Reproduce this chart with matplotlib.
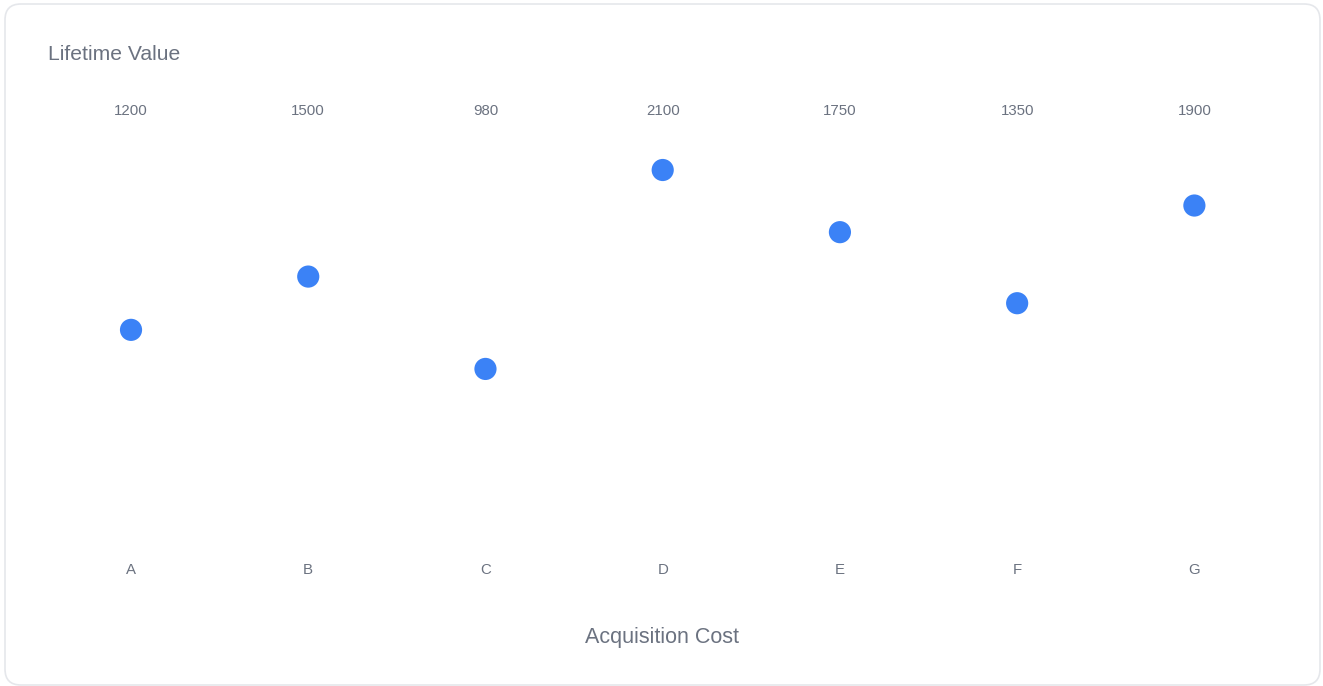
import numpy as np
import matplotlib.pyplot as plt
from matplotlib.patches import FancyBboxPatch
import matplotlib.transforms as mtransforms

# data
categories = ['A', 'B', 'C', 'D', 'E', 'F', 'G']
acquisition_cost = [1200, 1500, 980, 2100, 1750, 1350, 1900]
lifetime_value = [1200, 1500, 980, 2100, 1750, 1350, 1900]

W, H = 1323, 686
text_col = '#6b7280'
dot_col = '#3b82f6'
plt.rcParams['font.family'] = ['Liberation Sans', 'DejaVu Sans']

fig = plt.figure(figsize=(W / 100, H / 100), dpi=100)

# card background
card = FancyBboxPatch((5 / W, 1 - 685 / H), 1315 / W, 681 / H,
                      boxstyle='round,pad=0,rounding_size=0.012',
                      transform=fig.transFigure, facecolor='white',
                      edgecolor='#e5e7eb', linewidth=1.2, mutation_aspect=W / H,
                      zorder=-10)
fig.patches.append(card)

# axes: band scale for x, linear for y
left, right = 42.4, 1283.0
bottom, top = 543.0, 170.0
ax = fig.add_axes([left / W, 1 - bottom / H, (right - left) / W, (bottom - top) / H])
ax.set_xlim(-0.5, len(categories) - 0.5)
ax.set_ylim(0, max(lifetime_value))
ax.axis('off')

x = np.arange(len(categories))
ax.scatter(x, lifetime_value, s=255, color=dot_col, edgecolors='none', clip_on=False, zorder=3)

trans = mtransforms.blended_transform_factory(ax.transData, fig.transFigure)
for i, (c, v) in enumerate(zip(categories, acquisition_cost)):
    ax.text(i, 1 - 111 / H, str(v), transform=trans, ha='center', va='center',
            fontsize=10.8, color=text_col)
    ax.text(i, 1 - 570 / H, c, transform=trans, ha='center', va='center',
            fontsize=10.8, color=text_col)

fig.text(48 / W, 1 - 55 / H, 'Lifetime Value', ha='left', va='center', fontsize=15.2, color=text_col)
fig.text(662 / W, 1 - 638 / H, 'Acquisition Cost', ha='center', va='center', fontsize=15.5, color=text_col)

fig.savefig('out.png', dpi=100)
